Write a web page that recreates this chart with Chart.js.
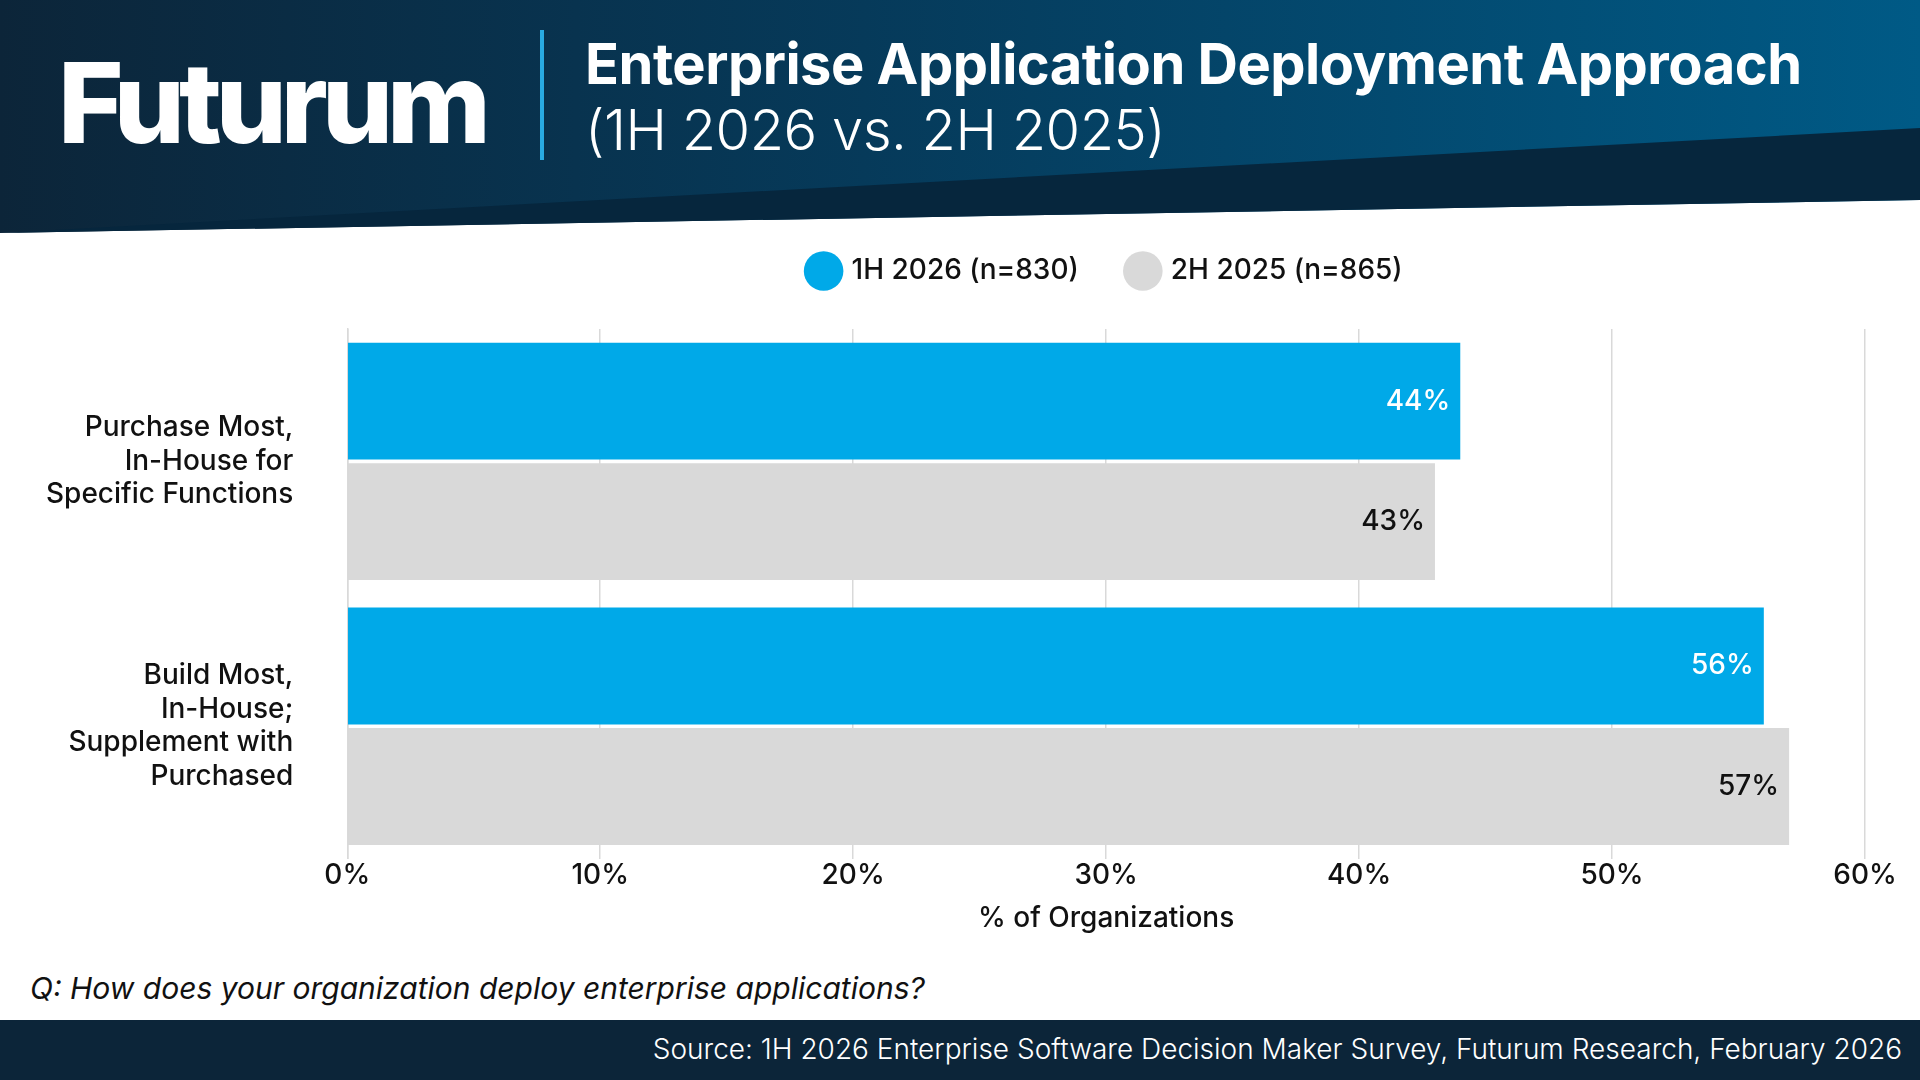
<!DOCTYPE html>
<html><head><meta charset="utf-8">
<script src="https://cdn.jsdelivr.net/npm/chart.js@4"></script>
<style>
  html,body{margin:0;padding:0;width:1920px;height:1080px;overflow:hidden;background:#fff;font-family:Inter,"Noto Sans",sans-serif;}
  #hdr{position:absolute;left:0;top:0;width:1920px;height:235px;background:linear-gradient(90deg,#0c2539 0%,#063a5a 45%,#005a86 100%);clip-path:polygon(0 0,100% 0,100% 200px,0 233px);}
  #hdr2{position:absolute;left:0;top:0;width:1920px;height:235px;background:#06263d;clip-path:polygon(820px 188px,1920px 128px,1920px 200px,0 233px);}
  #logo{position:absolute;left:58px;top:34px;color:#fff;font-size:112px;font-weight:800;letter-spacing:-6px;}
  #bar{position:absolute;left:540px;top:30px;width:4px;height:130px;background:#29abe2;}
  #t1{position:absolute;left:585px;top:30px;color:#fff;font-size:56px;font-weight:700;letter-spacing:-0.5px;}
  #t2{position:absolute;left:585px;top:96px;color:#fff;font-size:56px;font-weight:300;letter-spacing:-0.5px;}
  #q{position:absolute;left:30px;top:970px;font-size:30px;font-style:italic;color:#111;}
  #foot{position:absolute;left:0;top:1020px;width:1920px;height:60px;background:#0c2539;}
  #src{position:absolute;right:18px;top:1032px;color:#fff;font-size:28px;font-weight:300;}
  #wrap{position:absolute;left:0;top:207px;width:1920px;height:748px;}
</style></head><body>
<div id="hdr"></div><div id="hdr2"></div>
<div id="logo">Futurum</div><div id="bar"></div>
<div id="t1">Enterprise Application Deployment Approach</div>
<div id="t2">(1H 2026 vs. 2H 2025)</div>
<div id="wrap"><canvas id="c" width="1920" height="748"></canvas></div>
<div id="q">Q: How does your organization deploy enterprise applications?</div>
<div id="foot"></div>
<div id="src">Source: 1H 2026 Enterprise Software Decision Maker Survey, Futurum Research, February 2026</div>
<script>
const categories = [['Purchase Most,','In-House for','Specific Functions'],['Build Most,','In-House;','Supplement with','Purchased']];
const series1H2026 = [44, 56];
const series2H2025 = [43, 57];
const seriesNames = ['1H 2026 (n=830)', '2H 2025 (n=865)'];

const FONT = 'Inter, "Noto Sans", sans-serif';

const valueLabels = {
  id: 'valueLabels',
  afterInit(chart) {
    const lg = chart.legend;
    const fit = lg.fit;
    lg.fit = function () { fit.call(this); this.height += 34; };
  },
  beforeDraw(chart) {
    // centre the legend over the plot area rather than the whole canvas
    const lg = chart.legend, a = chart.chartArea;
    lg.left = a.left; lg.right = a.right; lg.width = a.right - a.left;
  },
  afterDatasetsDraw(chart) {
    const ctx = chart.ctx;
    ctx.save();
    ctx.font = '500 28px ' + FONT;
    ctx.textAlign = 'right';
    ctx.textBaseline = 'middle';
    chart.data.datasets.forEach((ds, i) => {
      chart.getDatasetMeta(i).data.forEach((bar, j) => {
        ctx.fillStyle = i === 0 ? '#fff' : '#111';
        ctx.fillText(ds.data[j] + '%', bar.x - 10, bar.y);
      });
    });
    ctx.restore();
  }
};

new Chart(document.getElementById('c'), {
  type: 'bar',
  data: {
    labels: categories,
    datasets: [
      { label: seriesNames[0], data: series1H2026, backgroundColor: '#00a9e8' },
      { label: seriesNames[1], data: series2H2025, backgroundColor: '#d9d9d9' }
    ]
  },
  options: {
    indexAxis: 'y',
    responsive: false,
    animation: false,
    categoryPercentage: 0.91,
    barPercentage: 0.97,
    layout: { padding: { left: 0, right: 55, top: 0, bottom: 0 } },
    plugins: {
      legend: {
        position: 'top',
        labels: { usePointStyle: true, pointStyle: 'circle', boxWidth: 28, boxHeight: 28, padding: 50, color: '#111', font: { family: FONT, size: 28, weight: '500' } }
      },
      tooltip: { enabled: false }
    },
    scales: {
      x: {
        min: 0, max: 60,
        ticks: { stepSize: 10, callback: v => v + '%', color: '#111', font: { family: FONT, size: 28, weight: '500' }, padding: 0 },
        grid: { color: '#d9d9d9', lineWidth: 1.5, drawTicks: false },
        border: { display: false },
        title: { display: true, text: '% of Organizations', color: '#111', font: { family: FONT, size: 28, weight: '500' }, padding: { top: 10 } }
      },
      y: {
        ticks: { color: '#111', font: { family: FONT, size: 28, weight: '500' }, padding: 46, crossAlign: 'near' },
        grid: { display: false },
        border: { color: '#d9d9d9', width: 1.5 }
      }
    }
  },
  plugins: [valueLabels]
});
</script>
</body></html>
